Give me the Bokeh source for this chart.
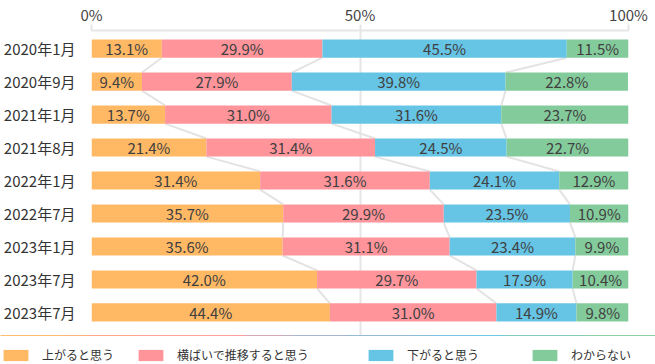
from bokeh.plotting import figure
from bokeh.layouts import column
from bokeh.models import (ColumnDataSource, Range1d, FixedTicker, Legend, LegendItem)
from bokeh.core.properties import value
from bokeh.embed import file_html
from bokeh.resources import INLINE

periods = ["2020年1月", "2020年9月", "2021年1月", "2021年8月", "2022年1月",
           "2022年7月", "2023年1月", "2023年7月", "2023年7月"]
series_names = ["上がると思う", "横ばいで推移すると思う", "下がると思う", "わからない"]
up = [13.1, 9.4, 13.7, 21.4, 31.4, 35.7, 35.6, 42.0, 44.4]
flat = [29.9, 27.9, 31.0, 31.4, 31.6, 29.9, 31.1, 29.7, 31.0]
down = [45.5, 39.8, 31.6, 24.5, 24.1, 23.5, 23.4, 17.9, 14.9]
unknown = [11.5, 22.8, 23.7, 22.7, 12.9, 10.9, 9.9, 10.4, 9.8]
x_ticks = [0, 50, 100]
x_tick_labels = ["0%", "50%", "100%"]

colors = ["#FFB965", "#FF959B", "#66C4E5", "#84CB9C"]
FONT = "Noto Sans CJK JP"
BAR_H = 0.55

series = [up, flat, down, unknown]
n = len(periods)
ys = list(range(n))

p = figure(width=655, height=335, output_backend="svg", toolbar_location=None,
           x_range=Range1d(0, 100), y_range=Range1d(n - 1 + 0.7, -0.55),
           x_axis_location="above", min_border_left=91, min_border_right=27,
           min_border_top=0, min_border_bottom=0)
p.outline_line_color = None
p.background_fill_color = "white"

# top axis
xa = p.xaxis[0]
xa.ticker = FixedTicker(ticks=x_ticks)
xa.major_label_overrides = {t: l for t, l in zip(x_ticks, x_tick_labels)}
xa.axis_line_color = "#e6e6e6"
xa.axis_line_width = 2
xa.major_tick_line_color = "#e6e6e6"
xa.major_tick_line_width = 2
xa.major_tick_in = 0
xa.major_tick_out = 6
xa.minor_tick_line_color = None
xa.major_label_standoff = 0
xa.major_label_text_font = FONT
xa.major_label_text_font_size = "15px"
xa.major_label_text_color = "#444444"

# left axis
ya = p.yaxis[0]
ya.ticker = FixedTicker(ticks=ys)
ya.major_label_overrides = {i: lab for i, lab in enumerate(periods)}
ya.axis_line_color = None
ya.major_tick_line_color = None
ya.minor_tick_line_color = None
ya.major_label_standoff = 10
ya.major_label_text_font = FONT
ya.major_label_text_font_size = "15px"
ya.major_label_text_color = "#333333"

p.xgrid.ticker = FixedTicker(ticks=x_ticks)
p.xgrid.grid_line_color = "#e6e6e6"
p.xgrid.grid_line_width = 2
p.ygrid.grid_line_color = None

# cumulative positions
lefts, rights = [], []
acc = [0.0] * n
for s in series:
    lefts.append(acc[:])
    acc = [a + v for a, v in zip(acc, s)]
    rights.append(acc[:])

# connector lines between adjacent bars
x0s, y0s, x1s, y1s = [], [], [], []
for k in range(3):
    for i in range(n - 1):
        x0s.append(rights[k][i]); y0s.append(i + BAR_H / 2)
        x1s.append(rights[k][i + 1]); y1s.append(i + 1 - BAR_H / 2)
p.segment(x0=x0s, y0=y0s, x1=x1s, y1=y1s, line_color="#e3e3e3", line_width=2)

sources = []
for k, s in enumerate(series):
    src = ColumnDataSource(dict(y=ys, left=lefts[k], right=rights[k],
                                mid=[(a + b) / 2 for a, b in zip(lefts[k], rights[k])],
                                txt=[f"{v:.1f}%" for v in s]))
    sources.append(src)
    p.hbar(y="y", left="left", right="right", height=BAR_H, source=src,
           fill_color=colors[k], line_color=None)
    p.text(x="mid", y="y", text="txt", source=src, text_align="center",
           text_baseline="middle", text_font=value(FONT), text_font_size="15px",
           text_color="#404040")

# legend strip (its bars share the data sources but lie outside its view)
lf = figure(width=655, height=29, output_backend="svg", toolbar_location=None,
            x_range=Range1d(0, 100), y_range=Range1d(-3, -2),
            x_axis_type=None, y_axis_type=None,
            min_border_left=0, min_border_right=0, min_border_top=0, min_border_bottom=0)
lf.frame_align = False
lf.outline_line_color = None
lf.xgrid.grid_line_color = None
lf.ygrid.grid_line_color = None

leg_x = [0, 135, 365, 529]
for k in range(4):
    r = lf.hbar(y="y", left="left", right="right", height=BAR_H, source=sources[k],
                fill_color=colors[k], line_color=None)
    leg = Legend(items=[LegendItem(label=series_names[k], renderers=[r])],
                 location=(leg_x[k], 1), orientation="horizontal",
                 glyph_width=31, glyph_height=14, label_standoff=11,
                 padding=0, margin=0, spacing=0,
                 border_line_color=None, background_fill_alpha=0,
                 label_text_font=FONT, label_text_font_size="12px",
                 label_text_color="#333333")
    lf.add_layout(leg)

layout = column(p, lf, spacing=0)
open("out.html", "w").write(file_html(layout, INLINE))
